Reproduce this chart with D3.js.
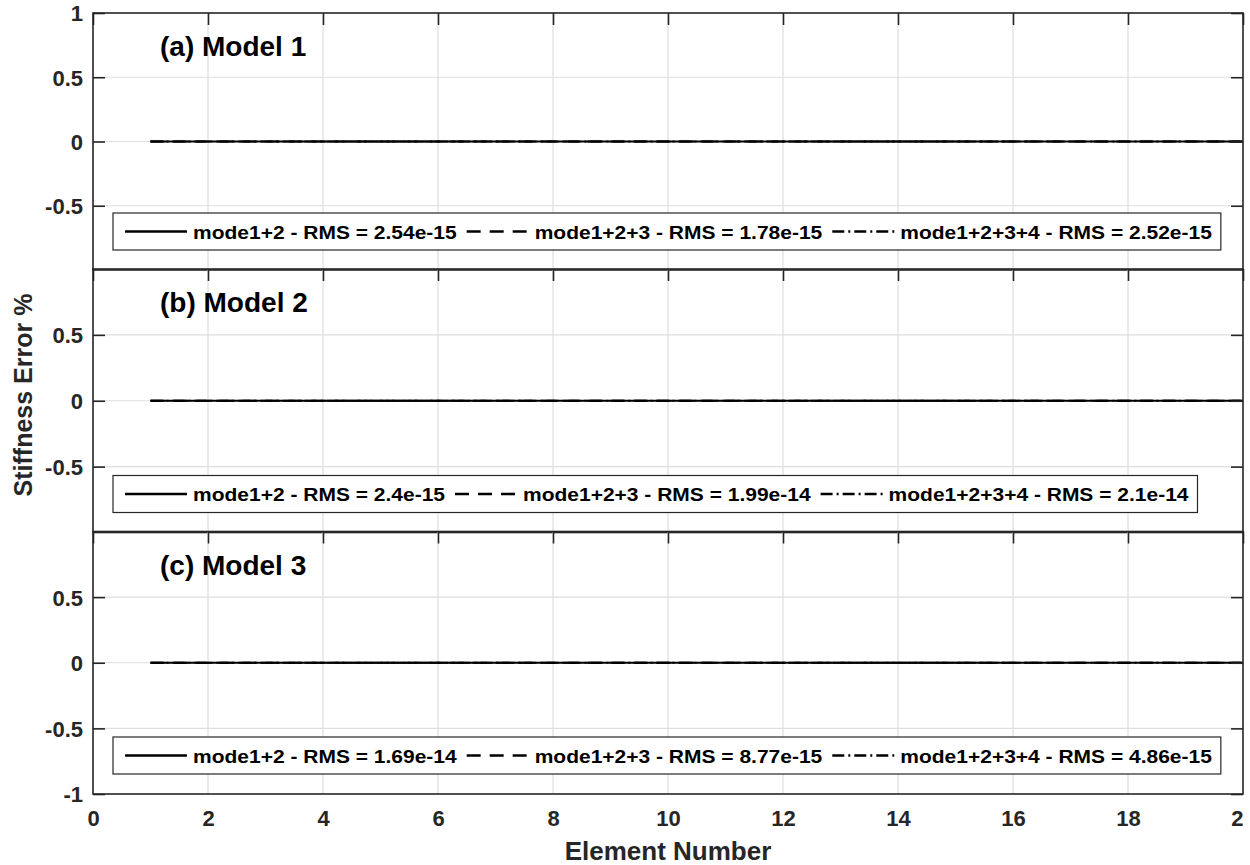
<!DOCTYPE html>
<html>
<head>
<meta charset="utf-8">
<script src="https://cdn.jsdelivr.net/npm/d3@7/dist/d3.min.js"></script>
<style>
  body { margin: 0; background: #fff; }
  svg { display: block; font-family: Arial, "Liberation Sans", Helvetica, sans-serif; font-weight: bold; }
</style>
</head>
<body>
<svg id="chart" width="1250" height="865"></svg>
<script>
// Element numbers along the beam
const elements = [1, 2, 3, 4, 5, 6, 7, 8, 9, 10, 11, 12, 13, 14, 15, 16, 17, 18, 19, 20];

// Stiffness error (%) per element for each mode combination
const model1Modes12   = [0, 0, 0, 0, 0, 0, 0, 0, 0, 0, 0, 0, 0, 0, 0, 0, 0, 0, 0, 0];
const model1Modes123  = [0, 0, 0, 0, 0, 0, 0, 0, 0, 0, 0, 0, 0, 0, 0, 0, 0, 0, 0, 0];
const model1Modes1234 = [0, 0, 0, 0, 0, 0, 0, 0, 0, 0, 0, 0, 0, 0, 0, 0, 0, 0, 0, 0];
const model2Modes12   = [0, 0, 0, 0, 0, 0, 0, 0, 0, 0, 0, 0, 0, 0, 0, 0, 0, 0, 0, 0];
const model2Modes123  = [0, 0, 0, 0, 0, 0, 0, 0, 0, 0, 0, 0, 0, 0, 0, 0, 0, 0, 0, 0];
const model2Modes1234 = [0, 0, 0, 0, 0, 0, 0, 0, 0, 0, 0, 0, 0, 0, 0, 0, 0, 0, 0, 0];
const model3Modes12   = [0, 0, 0, 0, 0, 0, 0, 0, 0, 0, 0, 0, 0, 0, 0, 0, 0, 0, 0, 0];
const model3Modes123  = [0, 0, 0, 0, 0, 0, 0, 0, 0, 0, 0, 0, 0, 0, 0, 0, 0, 0, 0, 0];
const model3Modes1234 = [0, 0, 0, 0, 0, 0, 0, 0, 0, 0, 0, 0, 0, 0, 0, 0, 0, 0, 0, 0];

// Series names and RMS values shown in each legend
const seriesNames = ["mode1+2", "mode1+2+3", "mode1+2+3+4"];
const rmsModel1 = ["2.54e-15", "1.78e-15", "2.52e-15"];
const rmsModel2 = ["2.4e-15", "1.99e-14", "2.1e-14"];
const rmsModel3 = ["1.69e-14", "8.77e-15", "4.86e-15"];

const panelTitles = ["(a) Model 1", "(b) Model 2", "(c) Model 3"];

// Axis ticks
const xTicks = [0, 2, 4, 6, 8, 10, 12, 14, 16, 18, 20];
const yGridTicks = [-0.5, 0, 0.5];
const yLabelsModel1 = [1, 0.5, 0, -0.5];
const yLabelsModel2 = [0.5, 0, -0.5];
const yLabelsModel3 = [0.5, 0, -0.5, -1];

const panels = [
  { title: panelTitles[0], series: [model1Modes12, model1Modes123, model1Modes1234], rms: rmsModel1, yLabels: yLabelsModel1, top: 13, bottom: 270 },
  { title: panelTitles[1], series: [model2Modes12, model2Modes123, model2Modes1234], rms: rmsModel2, yLabels: yLabelsModel2, top: 269, bottom: 532.5 },
  { title: panelTitles[2], series: [model3Modes12, model3Modes123, model3Modes1234], rms: rmsModel3, yLabels: yLabelsModel3, top: 531.5, bottom: 794 }
];

const dashStyles = [null, "14,9", "12,4,2,4"];
const axisColor = "#262626";
const gridColor = "#dedede";
const left = 93, right = 1243;

// plain hyphen for negative tick labels
const fmt = d => String(d);

const svg = d3.select("#chart");
const x = d3.scaleLinear().domain([0, 20]).range([left, right]);

// the figure area ends at the right axis edge
svg.append("defs").append("clipPath").attr("id", "figClip")
  .append("rect").attr("x", 0).attr("y", 0).attr("width", right + 1).attr("height", 865);

panels.forEach((p, pi) => {
  const y = d3.scaleLinear().domain([-1, 1]).range([p.bottom, p.top]);
  const g = svg.append("g");

  // background grid
  g.append("g").selectAll("line").data(xTicks.filter(d => d > 0 && d < 20)).join("line")
    .attr("x1", d => x(d)).attr("x2", d => x(d))
    .attr("y1", p.top).attr("y2", p.bottom)
    .attr("stroke", gridColor).attr("stroke-width", 1.2);
  g.append("g").selectAll("line").data(yGridTicks).join("line")
    .attr("x1", left).attr("x2", right)
    .attr("y1", d => y(d)).attr("y2", d => y(d))
    .attr("stroke", gridColor).attr("stroke-width", 1.2);

  // data lines
  const line = d3.line().x((d, i) => x(elements[i])).y(d => y(d));
  p.series.forEach((s, si) => {
    g.append("path").datum(s).attr("d", line)
      .attr("fill", "none").attr("stroke", "#000").attr("stroke-width", 2.2)
      .attr("stroke-dasharray", dashStyles[si]);
  });

  // axes with inward ticks on all four sides
  const tickLen = 12;
  const axB = d3.axisBottom(x).tickValues(xTicks).tickSize(-tickLen).tickFormat(pi === 2 ? fmt : "");
  const axT = d3.axisTop(x).tickValues(xTicks).tickSize(-tickLen).tickFormat("");
  const axL = d3.axisLeft(y).tickValues(p.yLabels).tickSize(-tickLen).tickPadding(10).tickFormat(fmt);
  const axR = d3.axisRight(y).tickValues(p.yLabels).tickSize(-tickLen).tickFormat("");

  const styleAxis = sel => {
    sel.select(".domain").remove();
    sel.selectAll(".tick line").attr("stroke", axisColor).attr("stroke-width", 1.6);
    sel.selectAll(".tick text").attr("fill", axisColor).attr("font-size", 22)
      .attr("font-family", "Arial, 'Liberation Sans', sans-serif").attr("font-weight", "bold");
  };
  g.append("g").attr("transform", `translate(0,${p.bottom})`).attr("clip-path", "url(#figClip)")
    .call(axB).call(styleAxis)
    .selectAll(".tick text").attr("dy", null).attr("y", 32);
  g.append("g").attr("transform", `translate(0,${p.top})`).call(axT).call(styleAxis);
  g.append("g").attr("transform", `translate(${left},0)`).call(axL).call(styleAxis)
    .selectAll(".tick text").attr("dy", "0.36em");
  g.append("g").attr("transform", `translate(${right},0)`).call(axR).call(styleAxis);

  // axes box
  g.append("rect").attr("x", left).attr("y", p.top)
    .attr("width", right - left).attr("height", p.bottom - p.top)
    .attr("fill", "none").attr("stroke", axisColor).attr("stroke-width", 1.6);

  // panel title
  g.append("text").attr("x", 160).attr("y", p.top + 43)
    .attr("font-size", 28).attr("fill", "#000").text(p.title);

  // legend, laid out horizontally at the lower left
  const boxH = 37, boxX = 113, boxY = p.bottom - 20 - boxH;
  const lg = g.append("g");
  const box = lg.append("rect").attr("x", boxX).attr("y", boxY).attr("height", boxH)
    .attr("fill", "#fff").attr("stroke", axisColor).attr("stroke-width", 1.2);
  let cursor = boxX + 12;
  const midY = boxY + boxH / 2;
  seriesNames.forEach((name, si) => {
    lg.append("line").attr("x1", cursor).attr("x2", cursor + 62)
      .attr("y1", midY).attr("y2", midY)
      .attr("stroke", "#000").attr("stroke-width", 2.6)
      .attr("stroke-dasharray", dashStyles[si]);
    const tx = cursor + 68;
    const t = lg.append("text")
      .attr("transform", `translate(${tx},${midY + 7}) scale(1,0.9)`)
      .attr("font-size", 21).attr("fill", "#000")
      .text(`${name} - RMS = ${p.rms[si]}`);
    cursor = tx + t.node().getComputedTextLength() + 10;
  });
  box.attr("width", cursor - 1 - boxX);
});

// axis titles
svg.append("text").attr("x", (left + right) / 2).attr("y", 860)
  .attr("text-anchor", "middle").attr("font-size", 26).attr("fill", axisColor)
  .text("Element Number");
svg.append("text").attr("transform", "translate(32,395) rotate(-90)")
  .attr("text-anchor", "middle").attr("font-size", 25).attr("fill", axisColor)
  .text("Stiffness Error %");
</script>
</body>
</html>
